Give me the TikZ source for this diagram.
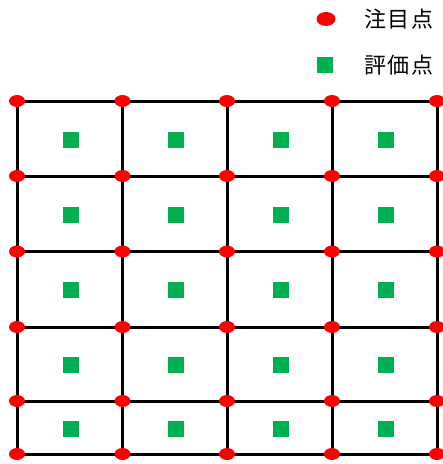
\documentclass[tikz,border=0pt]{standalone}
\usepackage{fontspec}
\newfontfamily\cjk[LetterSpace=8]{Noto Sans CJK JP}
\usetikzlibrary{shapes.geometric,calc}
\definecolor{evgreen}{RGB}{0,176,80}
\begin{document}
\begin{tikzpicture}[x=1pt,y=-1pt,
  gline/.style={line width=3pt},
  pt/.style={ellipse, fill=red, minimum width=16pt, minimum height=12pt, inner sep=0pt},
  ev/.style={fill=evgreen, minimum size=16pt, inner sep=0pt},
  lab/.style={font=\cjk\fontsize{22}{26}\selectfont, anchor=west, inner sep=0pt}]
\useasboundingbox (0,0) rectangle (443,464);
\foreach \x [count=\i] in {17,122.5,227,332,437}
  \foreach \y [count=\j] in {101,176,251.5,327,401,454}
    \coordinate (c\i-\j) at (\x,\y);
\foreach \j in {1,...,6} \draw[gline] (c1-\j) -- (c5-\j);
\foreach \i in {1,...,5} \draw[gline] (c\i-1) -- (c\i-6);
\foreach \i in {1,...,5}
  \foreach \j in {1,...,6}
    \node[pt] (p\i-\j) at (c\i-\j) {};
\foreach \i in {1,...,4}
  \foreach \j in {1,...,5} {
    \pgfmathtruncatemacro{\ni}{\i+1}
    \pgfmathtruncatemacro{\nj}{\j+1}
    \node[ev] (e\i-\j) at ($(c\i-\j)!0.5!(c\ni-\nj)+(1,1)$) {};
  }
\node[pt, minimum width=19pt, minimum height=14pt] (legpt) at (326,19) {};
\node[lab] (legpttext) at (364,19) {注目点};
\node[ev] (legev) at (325,65) {};
\node[lab] (legevtext) at (364,65) {評価点};
\end{tikzpicture}
\end{document}
